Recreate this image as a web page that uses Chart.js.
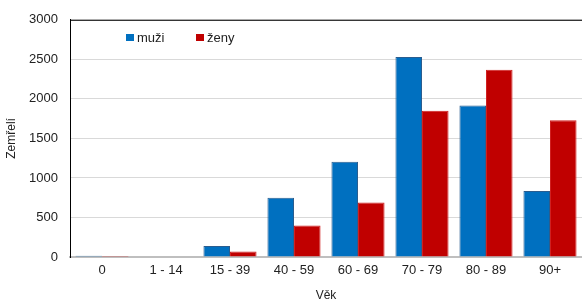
<!DOCTYPE html>
<html>
<head>
<meta charset="utf-8">
<script src="https://cdn.jsdelivr.net/npm/chart.js@4"></script>
<style>
  html, body { margin: 0; padding: 0; background: #fff; }
  #wrap { width: 582px; height: 303px; }
</style>
</head>
<body>
<div id="wrap"><canvas id="deathChart"></canvas></div>
<script>
// Age groups and deaths per sex
const ageGroups = ["0", "1 - 14", "15 - 39", "40 - 59", "60 - 69", "70 - 79", "80 - 89", "90+"];
const men = [15, 5, 140, 748, 1205, 2530, 1915, 835];
const women = [14, 5, 70, 398, 690, 1850, 2368, 1730];
const yTicks = [0, 500, 1000, 1500, 2000, 2500, 3000];

const FONT = "'Liberation Sans', Arial, sans-serif";

// Legend drawn inside the plot area + top frame line
const extras = {
    id: "extras",
    afterDraw(chart) {
        let ctx = chart.ctx;
        let area = chart.chartArea;
        ctx.save();
        ctx.strokeStyle = "#000";
        ctx.lineWidth = 1;
        ctx.beginPath();
        ctx.moveTo(area.left, area.top + 0.5);
        ctx.lineTo(area.right, area.top + 0.5);
        ctx.stroke();

        ctx.font = "13px " + FONT;
        ctx.textBaseline = "middle";
        let items = [[126, chart.data.datasets[0]], [196, chart.data.datasets[1]]];
        items.forEach(([x, ds]) => {
            ctx.fillStyle = ds.backgroundColor;
            ctx.fillRect(x, 34, 8, 7);
            ctx.fillStyle = "#222";
            ctx.fillText(ds.label, x + 11, 38);
        });
        ctx.restore();
    }
};

new Chart(document.getElementById("deathChart"), {
    type: "bar",
    data: {
        labels: ageGroups,
        datasets: [
            { label: "muži", data: men, backgroundColor: "#0070c0", borderColor: "#2a5d8f", borderWidth: 1 },
            { label: "ženy", data: women, backgroundColor: "#c00000", borderColor: "#d02020", borderWidth: 1 }
        ]
    },
    options: {
        responsive: true,
        maintainAspectRatio: false,
        animation: false,
        layout: { padding: { top: 16, right: 0, left: 0, bottom: 0 } },
        plugins: { legend: { display: false }, tooltip: { enabled: false } },
        datasets: { bar: { categoryPercentage: 0.83, barPercentage: 1.0 } },
        scales: {
            x: {
                grid: { display: false, drawTicks: false },
                border: { color: "#bfbfbf", width: 2 },
                ticks: { color: "#222", font: { family: FONT, size: 13 }, padding: 6 },
                title: { display: true, text: "Věk", color: "#222", font: { family: FONT, size: 12 }, padding: { top: 0, bottom: 0 } },
                afterFit: scale => { scale.height = 46; }
            },
            y: {
                min: 0,
                max: 3000,
                afterBuildTicks: scale => { scale.ticks = yTicks.map(v => ({ value: v })); },
                grid: { color: "#d9d9d9", drawTicks: false },
                border: { color: "#000", width: 1 },
                ticks: { color: "#222", font: { family: FONT, size: 13 }, padding: 12, callback: v => String(v) },
                title: { display: true, text: "Zemřelí", color: "#222", font: { family: FONT, size: 12 }, padding: { top: 4, bottom: 0 } },
                afterFit: scale => { scale.width = 70; }
            }
        }
    },
    plugins: [extras]
});
</script>
</body>
</html>
